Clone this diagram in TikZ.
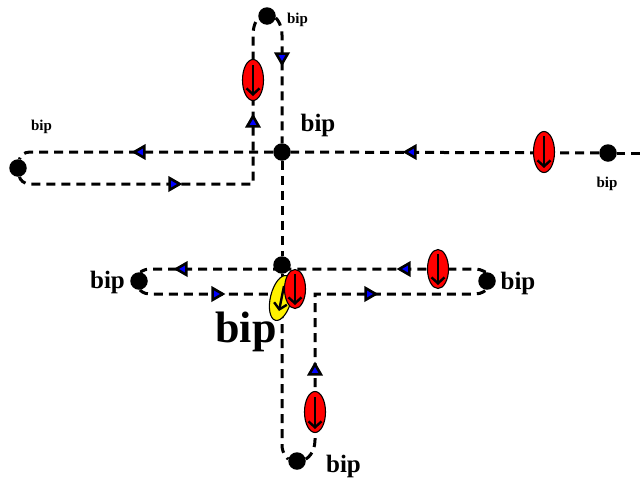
\documentclass[tikz,border=0pt]{standalone}
\usepackage{fontspec}
\setmainfont{Liberation Serif}
\usetikzlibrary{shapes.geometric,arrows.meta}
\tikzset{
  dot/.style={circle,fill=black,inner sep=0pt,minimum size=17.5pt},
  wire/.style={line width=3pt,dash pattern=on 9pt off 6pt,black},
  tri/.style={regular polygon,regular polygon sides=3,fill=blue,draw=black,line width=2.6pt,inner sep=0pt,minimum size=13.5pt},
  bug/.style={ellipse,draw=black,line width=1.1pt,inner sep=0pt,minimum width=21pt,minimum height=41pt,fill=red},
  pin/.style={line width=2.4pt,-{Straight Barb[length=6pt,width=13pt,line width=2.4pt]}},
  lab/.style={text=black,inner sep=0pt},
  labs/.style={lab,font=\bfseries\fontsize{15}{15}\selectfont},
  labm/.style={lab,font=\bfseries\fontsize{25}{25}\selectfont},
  labl/.style={lab,font=\bfseries\fontsize{44}{44}\selectfont},
}
\begin{document}
\begin{tikzpicture}[x=1pt,y=-1pt]
\useasboundingbox (0,0) rectangle (640,477);
\fill[white] (0,0) rectangle (640,477);
\node[dot] (top) at (267,16) {};
\node[dot] (cross) at (282,152) {};
\node[dot] (left) at (18,168) {};
\node[dot] (right) at (608,153) {};
\node[dot] (mid) at (282,265) {};
\node[dot] (midl) at (139,281) {};
\node[dot] (midr) at (487,281) {};
\node[dot] (bot) at (297,461) {};
\coordinate (edge) at (640,153);
\coordinate (join) at (282,294);
\coordinate (midbar) at (282,269);
\draw[wire] (edge) -- (right);
\draw[wire] (right) -- (cross);
\draw[wire] (cross) -- (30,152) .. controls (24,152) and (20,156) .. (left);
\draw[wire] (left) .. controls (20,180) and (24,184) .. (30,184) -- (253,184) -- (253,35) .. controls (253,24) and (258,18) .. (top);
\draw[wire] (top) .. controls (276,18) and (282,24) .. (282,35) -- (cross);
\draw[wire] (cross) -- (mid);
\draw[wire] (midbar) -- (150,269) .. controls (143,269) and (140,273) .. (midl);
\draw[wire] (midl) .. controls (140,290) and (143,294) .. (150,294) -- (join);
\draw[wire] (join) -- (282,445) .. controls (282,454) and (288,459) .. (bot);
\draw[wire] (bot) .. controls (306,459) and (315,454) .. (315,440) -- (315,294) -- (475,294) .. controls (482,294) and (486,290) .. (midr);
\draw[wire] (midr) .. controls (486,273) and (482,269) .. (475,269) -- (midbar);
\draw[wire] (mid) -- (join);
\node[tri,rotate=180] (t1) at (282,57) {};
\node[tri] (t2) at (253,123) {};
\node[tri,rotate=90] (t3) at (141,152) {};
\node[tri,rotate=-90] (t4) at (173,184) {};
\node[tri,rotate=90] (t5) at (412,152) {};
\node[tri,rotate=90] (t6) at (183,269) {};
\node[tri,rotate=90] (t7) at (406,269) {};
\node[tri,rotate=-90] (t8) at (216,294) {};
\node[tri,rotate=-90] (t9) at (369,294) {};
\node[tri] (t10) at (315,371) {};
\node[bug,fill=yellow,minimum width=21pt,minimum height=46pt,rotate=-14] (y) at (281,298) {};
\draw[pin] (y.center)+(3,-12) -- +(-2,13);
\node[bug] (r1) at (253,80) {};
\draw[pin] (253,65) -- (253,96);
\node[bug] (r2) at (544,152) {};
\draw[pin] (544,136) -- (544,168);
\node[bug,minimum height=39pt] (r3) at (438,269) {};
\draw[pin] (438,254) -- (438,285);
\node[bug,minimum height=39pt] (r4) at (295,289) {};
\draw[pin] (295,274) -- (295,305);
\node[bug] (r5) at (315,412) {};
\draw[pin] (315,397) -- (315,429);
\node[labs] (l1) at (297.5,19.5) {bip};
\node[labm] (l2) at (318,125.5) {bip};
\node[labs] (l3) at (41.5,127) {bip};
\node[labs] (l4) at (607,184) {bip};
\node[labm] (l5) at (107.5,282.5) {bip};
\node[labm] (l6) at (518,283.5) {bip};
\node[labl] (l7) at (246,332) {bip};
\node[labm] (l8) at (343.5,466.5) {bip};
\end{tikzpicture}
\end{document}
